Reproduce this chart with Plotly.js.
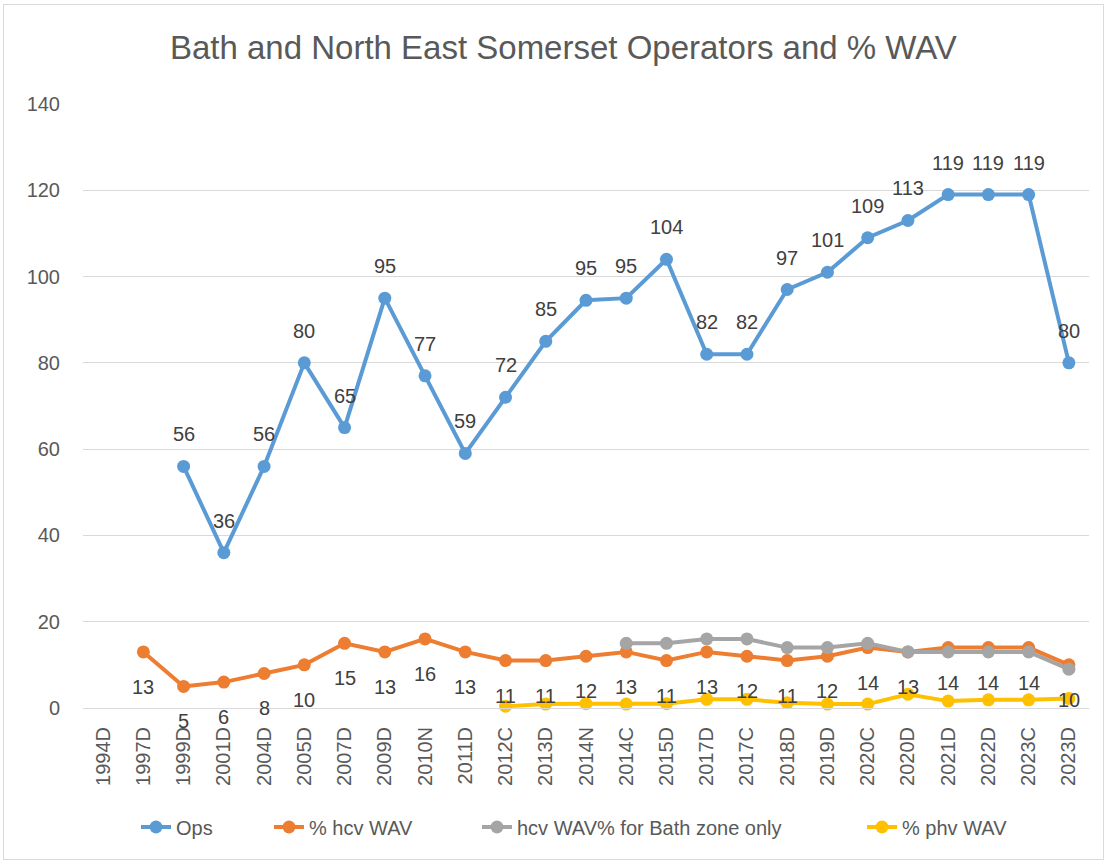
<!DOCTYPE html>
<html>
<head>
<meta charset="utf-8">
<script src="https://cdn.plot.ly/plotly-3.0.1.min.js"></script>
<style>
  html, body { margin: 0; padding: 0; background: #fff; }
  #frame { position: absolute; left: 3px; top: 4px; width: 1101px; height: 856px; border: 1px solid #d9d9d9; box-sizing: border-box; pointer-events: none; }
  #chart { width: 1109px; height: 864px; }
</style>
</head>
<body>
<div id="chart"></div>
<div id="frame"></div>
<script>
const categories = ["1994D","1997D","1999D","2001D","2004D","2005D","2007D","2009D","2010N","2011D","2012C","2013D","2014N","2014C","2015D","2017D","2017C","2018D","2019D","2020C","2020D","2021D","2022D","2023C","2023D"];
const ops      = [null, null, 56, 36, 56, 80, 65, 95, 77, 59, 72, 85, 94.5, 95, 104, 82, 82, 97, 101, 109, 113, 119, 119, 119, 80];
const hcvWav   = [null, 13, 5, 6, 8, 10, 15, 13, 16, 13, 11, 11, 12, 13, 11, 13, 12, 11, 12, 14, 13, 14, 14, 14, 10];
const bathZone = [null, null, null, null, null, null, null, null, null, null, null, null, null, 15, 15, 16, 16, 14, 14, 15, 13, 13, 13, 13, 9];
const phvWav   = [null, null, null, null, null, null, null, null, null, null, 0.4, 0.9, 1, 0.9, 1, 2, 2, 1.2, 0.9, 0.9, 3.2, 1.6, 1.9, 1.9, 2.2];
const seriesNames = ["Ops", "% hcv WAV", "hcv WAV% for Bath zone only", "% phv WAV"];
const colors = ["#5B9BD5", "#ED7D31", "#A5A5A5", "#FFC000"];
const yTicks = [0, 20, 40, 60, 80, 100, 120, 140];

const FONT = "Liberation Sans, Arial, sans-serif";
const legendIds = ["legend", "legend2", "legend3", "legend4"];
const legendLeft = [136, 269, 477, 862];

function mk(y, i) {
  return {
    x: categories, y: y, name: seriesNames[i], type: "scatter", mode: "lines+markers",
    line: { color: colors[i], width: 4 },
    marker: { color: colors[i], size: 13 },
    connectgaps: false, cliponaxis: false, legend: legendIds[i]
  };
}
const traces = [mk(ops, 0), mk(hcvWav, 1), mk(bathZone, 2), mk(phvWav, 3)];

const annotations = [];
ops.forEach((v, i) => {
  if (v !== null) annotations.push({ x: categories[i], y: v, text: String(Math.round(v)), showarrow: false, yshift: 32, font: { family: FONT, size: 20, color: "#404040" } });
});
hcvWav.forEach((v, i) => {
  if (v !== null) annotations.push({ x: categories[i], y: v, text: String(Math.round(v)), showarrow: false, yshift: -35, font: { family: FONT, size: 20, color: "#404040" } });
});

const layout = {
  width: 1109, height: 864,
  margin: { l: 83, r: 20, t: 104, b: 156 },
  paper_bgcolor: "#fff", plot_bgcolor: "#fff",
  font: { family: FONT, color: "#595959" },
  title: { text: "Bath and North East Somerset Operators and % WAV", x: 0.508, xanchor: "center", y: 0.945, yanchor: "middle", font: { family: FONT, size: 33, color: "#595959" } },
  xaxis: {
    type: "category", categoryorder: "array", categoryarray: categories, range: [-0.5, categories.length - 0.5],
    tickangle: -90, tickfont: { family: FONT, size: 20, color: "#595959" },
    showgrid: false, zeroline: false, showline: true, linecolor: "#d9d9d9", linewidth: 1,
    ticks: "", ticklabelstandoff: 10, fixedrange: true
  },
  yaxis: {
    range: [0, 140], tickvals: yTicks, ticktext: yTicks.map(String),
    tickfont: { family: FONT, size: 20, color: "#595959" },
    showgrid: true, gridcolor: "#d9d9d9", gridwidth: 1, zeroline: false, showline: false,
    ticks: "", ticklabelstandoff: 22, fixedrange: true
  },
  showlegend: true,
  annotations: annotations
};
legendIds.forEach((id, i) => {
  layout[id] = {
    orientation: "h", xref: "container", yref: "container",
    x: legendLeft[i] / 1109, xanchor: "left", y: 1 - 827 / 864, yanchor: "middle",
    font: { family: FONT, size: 20, color: "#595959" }, bgcolor: "rgba(0,0,0,0)"
  };
});

Plotly.newPlot("chart", traces, layout, { staticPlot: true, displayModeBar: false });
</script>
</body>
</html>
